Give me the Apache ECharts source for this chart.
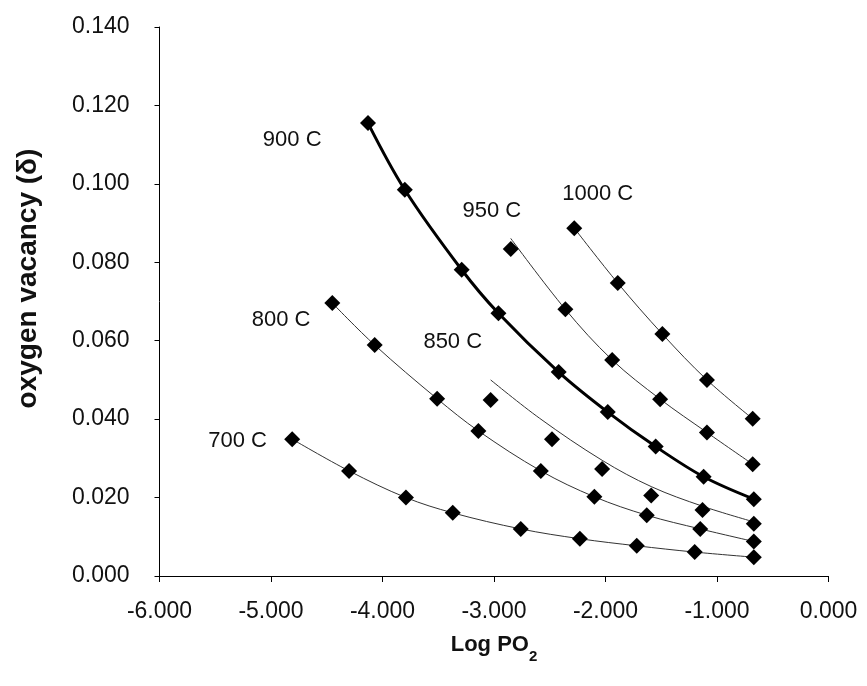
<!DOCTYPE html>
<html><head><meta charset="utf-8">
<script src="https://cdn.jsdelivr.net/npm/echarts@6/dist/echarts.min.js"></script>
<style>html,body{margin:0;padding:0;background:#fff}#c{width:867px;height:686px}</style>
</head><body><div id="c"></div>
<script>
// Temperatures (series names)
const temps = ['700 C', '800 C', '850 C', '900 C', '950 C', '1000 C'];

// Measured points: Log PO2 (x) and oxygen vacancy delta (y)
const x700 = [-4.81, -4.30, -3.79, -3.37, -2.76, -2.23, -1.72, -1.20, -0.67];
const y700 = [0.0349, 0.0268, 0.0200, 0.0161, 0.0120, 0.0095, 0.0077, 0.0061, 0.0048];

const x800 = [-4.45, -4.07, -3.51, -3.14, -2.58, -2.10, -1.63, -1.15, -0.67];
const y800 = [0.0696, 0.0589, 0.0452, 0.0370, 0.0268, 0.0202, 0.0155, 0.0120, 0.0088];

const x850 = [-3.03, -2.48, -2.03, -1.59, -1.13, -0.67];
const y850 = [0.0449, 0.0349, 0.0273, 0.0205, 0.0168, 0.0133];

const x900 = [-4.13, -3.80, -3.29, -2.96, -2.42, -1.98, -1.55, -1.12, -0.67];
const y900 = [0.1155, 0.0985, 0.0781, 0.0670, 0.0520, 0.0418, 0.0330, 0.0253, 0.0196];

const x950 = [-2.85, -2.36, -1.94, -1.51, -1.09, -0.68];
const y950 = [0.0834, 0.0680, 0.0551, 0.0451, 0.0366, 0.0285];

const x1000 = [-2.28, -1.89, -1.49, -1.09, -0.68];
const y1000 = [0.0887, 0.0747, 0.0617, 0.0500, 0.0401];

// Trend curves (where they do not pass through the points)
const trend850X = [-3.03, -2.59, -2.03, -1.59, -1.13, -0.67];
const trend850Y = [0.0500, 0.0402, 0.0295, 0.0228, 0.0178, 0.0138];
const trend950X = [-2.85, -2.36, -1.94, -1.51, -1.09, -0.68];
const trend950Y = [0.0861, 0.0680, 0.0551, 0.0451, 0.0366, 0.0285];

// Axis ticks
const xTicks = [-6, -5, -4, -3, -2, -1, 0];
const yTicks = [0, 0.02, 0.04, 0.06, 0.08, 0.10, 0.12, 0.14];

// Curve label anchors (data coordinates)
const labelX = [-5.30, -4.91, -3.37, -4.81, -3.02, -2.07];
const labelY = [0.0344, 0.0653, 0.0598, 0.1112, 0.0932, 0.0974];

const zip = (a, b) => a.map((v, i) => [v, b[i]]);
const FONT = '"Liberation Sans", Arial, Helvetica, sans-serif';

const pointSets = [zip(x700, y700), zip(x800, y800), zip(x850, y850), zip(x900, y900), zip(x950, y950), zip(x1000, y1000)];
const trendSets = [zip(x700, y700), zip(x800, y800), zip(trend850X, trend850Y), zip(x900, y900), zip(trend950X, trend950Y), zip(x1000, y1000)];

const series = [];
temps.forEach((t, i) => {
  series.push({
    name: t + ' trend', type: 'line', data: trendSets[i], smooth: 0.35,
    showSymbol: false, silent: true, z: 2,
    lineStyle: { color: i === 3 ? '#000' : '#333', width: i === 3 ? 3 : 1 }
  });
  series.push({
    name: t, type: 'scatter', data: pointSets[i], symbol: 'diamond', symbolSize: 16, z: 3,
    itemStyle: { color: '#000', opacity: 1 },
    markPoint: {
      symbol: 'rect', symbolSize: 0, silent: true,
      data: [{ coord: [labelX[i], labelY[i]], value: t }],
      label: { show: true, position: 'inside', formatter: t, color: '#111', fontSize: 22, fontFamily: FONT }
    }
  });
});

const chart = echarts.init(document.getElementById('c'), null, { renderer: 'canvas' });
chart.setOption({
  animation: false,
  backgroundColor: '#fff',
  grid: { left: 159.5, right: 38.5, top: 27, bottom: 110, containLabel: false },
  xAxis: {
    type: 'value', min: xTicks[0], max: xTicks[xTicks.length - 1], interval: 1,
    splitLine: { show: false },
    axisLine: { onZero: false, lineStyle: { color: '#000', width: 1 } },
    axisTick: { show: true, inside: false, length: 6, lineStyle: { color: '#000' } },
    axisLabel: { formatter: v => v.toFixed(3), fontSize: 23, color: '#111', fontFamily: FONT, margin: 24 },
    name: '{a|Log PO}{s|2}', nameLocation: 'middle', nameGap: 58,
    nameTextStyle: {
      fontFamily: FONT, color: '#111',
      rich: {
        a: { fontSize: 22, fontWeight: 'bold', fontFamily: FONT, lineHeight: 24, verticalAlign: 'top', color: '#111' },
        s: { fontSize: 15, fontWeight: 'bold', fontFamily: FONT, lineHeight: 30, verticalAlign: 'bottom', color: '#111' }
      }
    }
  },
  yAxis: {
    type: 'value', min: yTicks[0], max: yTicks[yTicks.length - 1], interval: 0.02,
    splitLine: { show: false },
    axisLine: { show: true, onZero: false, lineStyle: { color: '#000', width: 1 } },
    axisTick: { show: true, inside: false, length: 5, lineStyle: { color: '#000' } },
    axisLabel: { formatter: v => v.toFixed(3), fontSize: 23, color: '#111', fontFamily: FONT, margin: 30 },
    name: 'oxygen vacancy (δ)', nameLocation: 'middle', nameRotate: 90, nameGap: 117,
    nameTextStyle: { fontSize: 28, fontWeight: 'bold', color: '#111', fontFamily: FONT, padding: [0, 0, 0, 46] }
  },
  series: series
});
</script>
</body></html>
